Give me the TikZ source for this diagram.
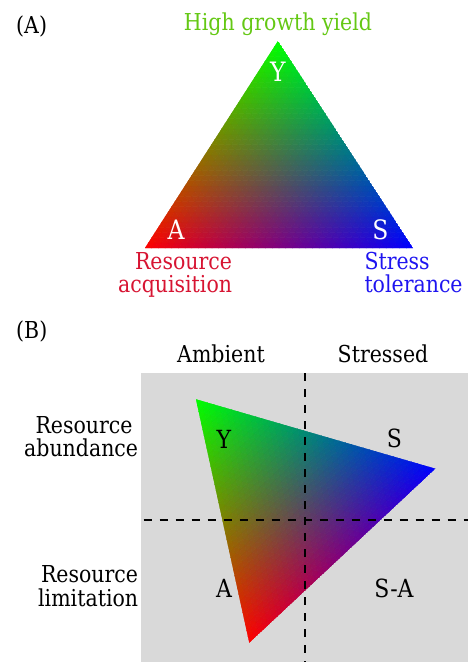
\documentclass[tikz,border=0pt]{standalone}
\usepackage{fontspec}
\setmainfont{DejaVu Serif}[FakeStretch=0.88]
\definecolor{bggray}{RGB}{217,217,217}
\definecolor{txtgreen}{RGB}{100,200,20}
\definecolor{txtred}{RGB}{215,20,50}
\definecolor{txtblue}{RGB}{30,20,240}
\newcommand\gradtri[6]{%
  \pgfmathsetmacro\uxA{(#3-#1)/40}%
  \pgfmathsetmacro\uyA{(#2-#4)/40}%
  \pgfmathsetmacro\uxB{(#5-#1)/40}%
  \pgfmathsetmacro\uyB{(#2-#6)/40}%
  \begin{scope}[shift={(#1,#2)}, x={(\uxA pt,\uyA pt)}, y={(\uxB pt,\uyB pt)}]
    \clip (0,0) -- (40,0) -- (0,40) -- cycle;
    \foreach \i in {0,...,39}{
      \pgfmathtruncatemacro\jm{39-\i}
      \foreach \j in {0,...,\jm}{
        \pgfmathsetmacro\cG{(\i+1/3)/40}
        \pgfmathsetmacro\cB{(\j+1/3)/40}
        \pgfmathsetmacro\cR{1-\cG-\cB}
        \definecolor{tc}{rgb}{\cR,\cG,\cB}
        \filldraw[tc, line width=0.5pt, line join=round] (\i,\j) -- (\i+1,\j) -- (\i,\j+1) -- cycle;
        \ifnum\j<\jm\relax
          \pgfmathsetmacro\cG{(\i+2/3)/40}
          \pgfmathsetmacro\cB{(\j+2/3)/40}
          \pgfmathsetmacro\cR{1-\cG-\cB}
          \definecolor{tc}{rgb}{\cR,\cG,\cB}
          \filldraw[tc, line width=0.5pt, line join=round] (\i+1,\j) -- (\i+1,\j+1) -- (\i,\j+1) -- cycle;
        \fi
      }
    }
  \end{scope}}
\begin{document}
\begin{tikzpicture}[x=1pt,y=-1pt,
  lbl/.style={inner sep=0pt, font=\fontsize{23.3}{23.3}\selectfont},
  bigw/.style={inner sep=0pt, text=white, font=\fontsize{26.7}{26.7}\selectfont},
  bigk/.style={inner sep=0pt, text=black, font=\fontsize{25}{25}\selectfont},
  dashline/.style={draw=black, line width=2pt, dash pattern=on 8pt off 8pt}]
\useasboundingbox (0,0) rectangle (468,662);
% ---------- (A)
\gradtri{145}{248}{278}{41}{413}{248}
\node[lbl, anchor=base west] (labA) at (16,33) {(A)};
\node[lbl, anchor=base, text=txtgreen] (hgy) at (278,30.7) {High growth yield};
\node[bigw, anchor=base] (wY) at (278,81.7) {Y};
\node[bigw, anchor=base] (wA) at (176,239.3) {A};
\node[bigw, anchor=base] (wS) at (380.5,239.3) {S};
\node[lbl, anchor=base east, align=right, text=txtred] (racq) at (232.3,292.7) {Resource\\acquisition};
\node[lbl, anchor=base west, align=left, text=txtblue] (stol) at (364.3,292.7) {Stress\\tolerance};
% ---------- (B)
\fill[bggray] (141,373.3) rectangle (468,662);
\gradtri{249.3}{642.7}{196}{399.3}{435.3}{468.7}
\coordinate (vtop) at (305,373.3);
\coordinate (vbot) at (305,662);
\coordinate (hleft) at (143.7,520.3);
\coordinate (hright) at (468,520.3);
\draw[dashline] (vtop) -- (vbot);
\draw[dashline] (hleft) -- (hright);
\node[lbl, anchor=base west] (labB) at (16,338) {(B)};
\node[lbl, anchor=base] (amb) at (221,362.7) {Ambient};
\node[lbl, anchor=base] (str) at (383,362.7) {Stressed};
\node[lbl, anchor=base east, align=right] (rab) at (138.3,456.7) {Resource\hspace*{5.5pt}\\abundance};
\node[lbl, anchor=base east, align=right] (rlim) at (138.3,606) {Resource\\limitation};
\node[bigk, anchor=base] (kY) at (224,448.3) {Y};
\node[bigk, anchor=base] (kS) at (394.3,447.3) {S};
\node[bigk, anchor=base] (kA) at (224,597.3) {A};
\node[bigk, anchor=base] (kSA) at (394,597.3) {S-A};
\end{tikzpicture}
\end{document}
